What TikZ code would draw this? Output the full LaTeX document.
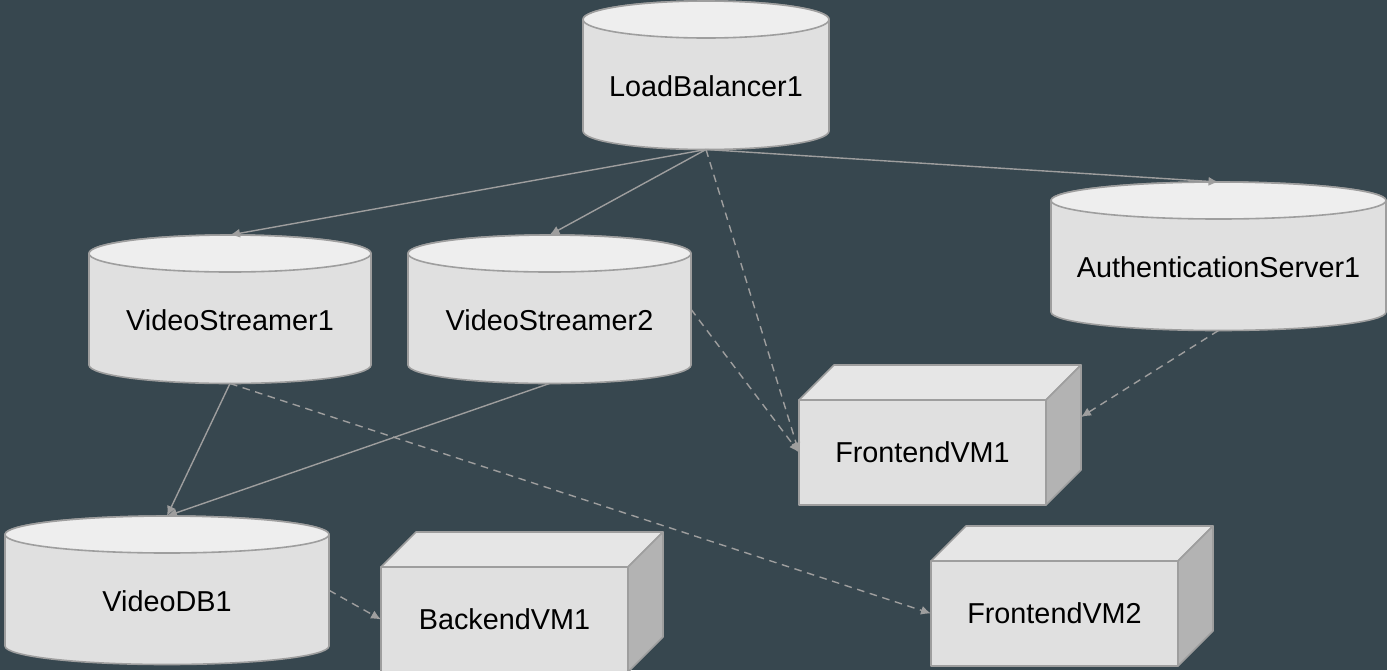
\documentclass[tikz,border=0pt]{standalone}
\usepackage{fontspec}
\setmainfont{Liberation Sans}
\usetikzlibrary{arrows.meta}

\definecolor{slatebg}{HTML}{37474F}
\definecolor{edgegray}{HTML}{9E9E9E}
\definecolor{bodygray}{HTML}{E0E0E0}
\definecolor{topgray}{HTML}{EEEEEE}
\definecolor{lidgray}{HTML}{E6E6E6}
\definecolor{sidegray}{HTML}{B3B3B3}

\tikzset{
  shapeline/.style={draw=edgegray, line width=0.8pt, line join=round},
  hidden/.style={inner sep=0pt, outer sep=0pt},
  caption/.style={text=black, font=\fontsize{14.4}{17}\selectfont},
  link/.style={draw=edgegray, line width=0.7pt, -{Latex[length=5pt,width=4.5pt]}},
  dashlink/.style={link, dash pattern=on 3.8pt off 2.8pt},
}

% name, left, right, top, text
\newcommand{\dbnode}[5]{
  \filldraw[shapeline, fill=bodygray] (#2, #4 + 18.5) -- (#2, #4 + 130)
    arc[start angle=180, end angle=0, x radius={(#3 - #2)/2}, y radius=18.5]
    -- (#3, #4 + 18.5)
    arc[start angle=0, end angle=-180, x radius={(#3 - #2)/2}, y radius=18.5] -- cycle;
  \filldraw[shapeline, fill=topgray] ({(#2 + #3)/2}, #4 + 18.5)
    ellipse[x radius={(#3 - #2)/2}, y radius=18.5];
  \node[hidden, minimum width={(#3 - #2)*0.5pt}, minimum height=74.25pt,
    label={[caption, yshift=-5.5pt]center:#5}] (#1) at ({(#2 + #3)/2}, #4 + 74.25) {};
}

% name, left, top, text (all boxes have the same size)
\newcommand{\vmnode}[4]{
  \filldraw[shapeline, fill=lidgray] (#2, #3) -- (#2 + 35, #3 - 35) -- (#2 + 282, #3 - 35)
    -- (#2 + 247, #3) -- cycle;
  \filldraw[shapeline, fill=sidegray] (#2 + 247, #3) -- (#2 + 282, #3 - 35)
    -- (#2 + 282, #3 + 70) -- (#2 + 247, #3 + 105) -- cycle;
  \node[hidden, shapeline, fill=bodygray, minimum width=123.5pt, minimum height=52.5pt,
    caption] (#1) at (#2 + 123.5, #3 + 52.5) {#4};
  \coordinate (#1 side) at (#2 + 282, #3 + 17);
}

\begin{document}
\begin{tikzpicture}[x=0.5pt, y=-0.5pt]
\fill[slatebg] (0, 0) rectangle (1387, 670);
\useasboundingbox (0, 0) rectangle (1387, 670);

\dbnode{lb}{583}{829}{1}{LoadBalancer1}
\dbnode{auth}{1051}{1386}{182}{AuthenticationServer1}
\dbnode{vs1}{89}{371}{235}{VideoStreamer1}
\dbnode{vs2}{408}{691}{235}{VideoStreamer2}
\dbnode{db1}{5}{329}{516}{VideoDB1}

\vmnode{fe1}{799}{400}{FrontendVM1}
\vmnode{fe2}{931}{561}{FrontendVM2}
\vmnode{be1}{381}{567}{BackendVM1}

\draw[link] (lb.south) -- (vs1.north);
\draw[link] (lb.south) -- (vs2.north);
\draw[link] (lb.south) -- (auth.north);
\draw[dashlink] (lb.south) -- (fe1.west);
\draw[dashlink] (vs2.east) -- (fe1.west);
\draw[dashlink] (auth.south) -- (fe1 side);
\draw[link] (vs1.south) -- (db1.north);
\draw[link] (vs2.south) -- (db1.north);
\draw[dashlink] (vs1.south) -- (fe2.west);
\draw[dashlink] (db1.east) -- (be1.west);
\end{tikzpicture}
\end{document}
